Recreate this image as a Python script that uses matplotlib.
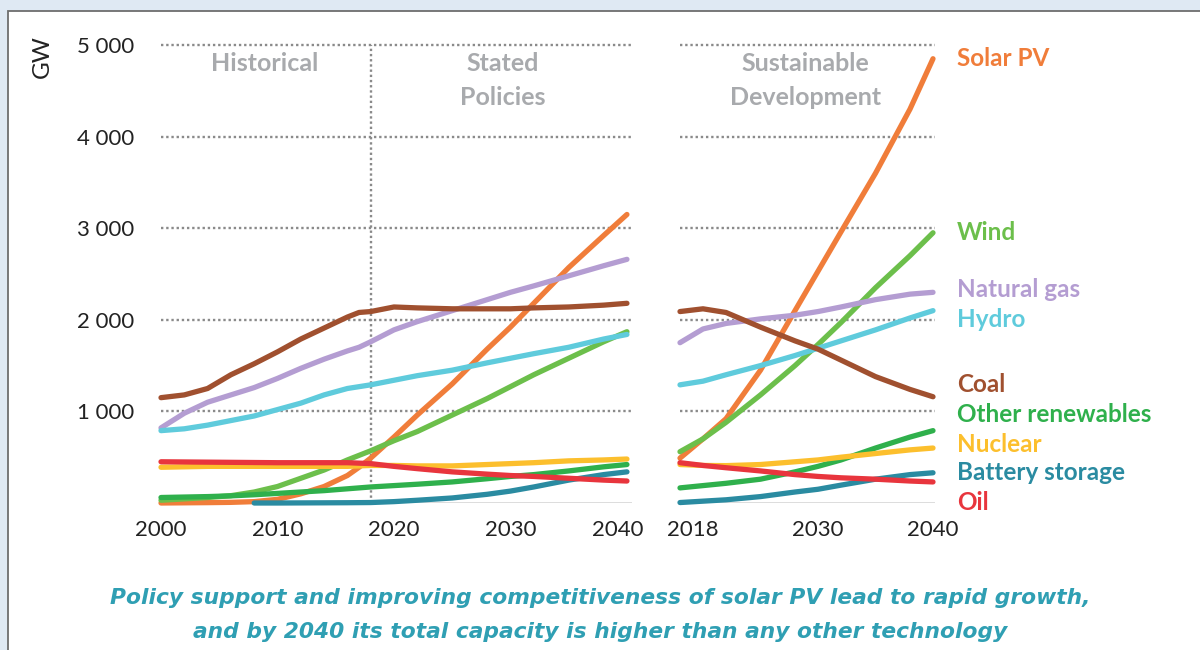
import matplotlib
matplotlib.use("Agg")
from matplotlib import pyplot as plt
from matplotlib.patches import Rectangle
from matplotlib.transforms import ScaledTranslation

# ---------------- data (GW) ----------------
names = ["Solar PV", "Wind", "Natural gas", "Hydro", "Coal",
         "Other renewables", "Nuclear", "Battery storage", "Oil"]
colors = ["#f07d3a", "#6cbf4b", "#b49dd2", "#5fcbdc", "#a0502f",
          "#2fb04c", "#fcbf2d", "#2a8ba1", "#e8353d"]

# Historical + Stated Policies (left panel)
years_sp = [2000, 2002, 2004, 2006, 2008, 2010, 2012, 2014, 2016, 2017, 2018,
            2020, 2022, 2025, 2028, 2030, 2032, 2035, 2038, 2040]
solar_sp = [0, 2, 4, 7, 15, 40, 100, 180, 300, 390, 490,
            720, 960, 1300, 1680, 1920, 2180, 2570, 2920, 3150]
wind_sp = [30, 45, 60, 80, 120, 180, 270, 360, 470, 520, 570,
           680, 780, 960, 1140, 1270, 1400, 1580, 1760, 1870]
gas_sp = [820, 980, 1100, 1180, 1260, 1360, 1470, 1570, 1660, 1700, 1760,
          1890, 1980, 2100, 2220, 2300, 2370, 2480, 2590, 2660]
hydro_sp = [790, 810, 850, 900, 950, 1020, 1090, 1180, 1250, 1270, 1290,
            1340, 1390, 1450, 1530, 1580, 1630, 1700, 1790, 1840]
coal_sp = [1150, 1180, 1250, 1400, 1520, 1650, 1790, 1910, 2030, 2080, 2090,
           2140, 2130, 2120, 2120, 2120, 2130, 2140, 2160, 2180]
other_sp = [60, 65, 70, 78, 90, 105, 120, 135, 155, 165, 175,
            190, 205, 230, 265, 290, 310, 350, 395, 420]
nuclear_sp = [390, 395, 400, 400, 400, 400, 400, 400, 400, 405, 410,
              410, 405, 405, 420, 430, 440, 460, 470, 480]
oil_sp = [450, 448, 446, 444, 442, 440, 440, 440, 440, 435, 430,
          400, 375, 340, 315, 300, 290, 270, 250, 240]
battery_years = [2008, 2010, 2012, 2014, 2016, 2018, 2020, 2022, 2025, 2028, 2030, 2032, 2035, 2038, 2040]
battery_sp = [0, 0, 1, 2, 3, 5, 15, 30, 55, 95, 130, 175, 250, 310, 340]

# Sustainable Development (right panel)
years_sd = [2018, 2020, 2022, 2025, 2028, 2030, 2032, 2035, 2038, 2040]
solar_sd = [490, 700, 920, 1450, 2100, 2530, 2960, 3600, 4300, 4850]
wind_sd = [560, 700, 880, 1180, 1500, 1730, 1970, 2350, 2700, 2950]
gas_sd = [1750, 1900, 1960, 2010, 2050, 2090, 2140, 2220, 2280, 2300]
hydro_sd = [1290, 1330, 1400, 1500, 1610, 1690, 1770, 1890, 2020, 2100]
coal_sd = [2090, 2120, 2080, 1920, 1770, 1680, 1560, 1380, 1240, 1160]
other_sd = [165, 190, 215, 260, 340, 400, 470, 600, 720, 790]
nuclear_sd = [420, 410, 408, 420, 450, 470, 500, 540, 580, 600]
oil_sd = [440, 410, 385, 350, 310, 290, 275, 260, 240, 230]
battery_sd = [5, 20, 35, 70, 120, 150, 195, 260, 310, 330]

series_sp = [solar_sp, wind_sp, gas_sp, hydro_sp, coal_sp, other_sp, nuclear_sp, battery_sp, oil_sp]
series_sd = [solar_sd, wind_sd, gas_sd, hydro_sd, coal_sd, other_sd, nuclear_sd, battery_sd, oil_sd]

label_y = [4850, 2950, 2330, 2000, 1290, 970, 640, 330, 10]

yticks = [1000, 2000, 3000, 4000, 5000]
ytick_labels = ["1 000", "2 000", "3 000", "4 000", "5 000"]
xticks_sp = [2000, 2010, 2020, 2030, 2040]
xticks_sd = [2018, 2030, 2040]

caption = ("Policy support and improving competitiveness of solar PV lead to rapid growth,\n"
           "and by 2040 its total capacity is higher than any other technology")

# ---------------- figure ----------------
plt.rcParams['font.family'] = ['Lato', 'DejaVu Sans']
fig = plt.figure(figsize=(12, 6.5), dpi=100)
fig.patch.set_facecolor("#dfe9f3")
box = Rectangle((8 / 1200, -0.1), 1.1, 1.1 - 11 / 650, transform=fig.transFigure,
                facecolor="white", edgecolor="#6d6d6d", linewidth=1.3, zorder=-5)
fig.add_artist(box)

grid_color = "#8a8a8a"
dots = (0, (1, 1.2))

ax1 = fig.add_axes([161 / 1200, 147 / 650, 470.6 / 1200, 458 / 650])
ax2 = fig.add_axes([680 / 1200, 147 / 650, 255.3 / 1200, 458 / 650])

for ax in (ax1, ax2):
    ax.set_facecolor("none")
    ax.set_ylim(0, 5000)
    for s in ax.spines.values():
        s.set_visible(False)
    for yv in yticks:
        ax.axhline(yv, color=grid_color, lw=1.7, ls=dots, zorder=1, clip_on=False)
    ax.axhline(0, color="#555555", lw=1.0, zorder=1)
    ax.tick_params(length=0, labelsize=16, colors="#222222", pad=12)

ax1.set_xlim(2000, 2040.4)
ax2.set_xlim(2018, 2040.2)

ax1.axvline(2018, color=grid_color, lw=1.7, ls=dots, zorder=1)

for i in range(len(names)):
    xs = battery_years if names[i] == "Battery storage" else years_sp
    ax1.plot(xs, series_sp[i], color=colors[i], lw=3.8, solid_capstyle="round", zorder=3, clip_on=False)
    ax2.plot(years_sd, series_sd[i], color=colors[i], lw=3.8, solid_capstyle="round", zorder=3, clip_on=False)
    ax2.text(2042.1, label_y[i], names[i], color=colors[i], fontsize=17.5, fontweight="bold",
             va="center", ha="left")

ax1.set_yticks(yticks)
ax1.set_yticklabels(ytick_labels)
ax1.tick_params(axis="y", pad=19)
ax2.set_yticks([])
ax1.set_xticks(xticks_sp)
ax2.set_xticks(xticks_sd)

# end labels sit a little inside the axis ends
lab = ax1.get_xticklabels()[-1]
lab.set_transform(lab.get_transform() + ScaledTranslation(-9 / 100, 0, fig.dpi_scale_trans))
lab = ax2.get_xticklabels()[0]
lab.set_transform(lab.get_transform() + ScaledTranslation(13 / 100, 0, fig.dpi_scale_trans))

fig.text(42 / 1200, 1 - 57 / 650, "GW", rotation=90, fontsize=17.5,
         color="#222222", ha="center", va="center")

scen_color = "#a8aaad"
ax1.text(2008.9, 4800, "Historical", color=scen_color, fontsize=18, fontweight="bold", ha="center", va="center")
ax1.text(2029.3, 4800, "Stated", color=scen_color, fontsize=18, fontweight="bold", ha="center", va="center")
ax1.text(2029.3, 4430, "Policies", color=scen_color, fontsize=18, fontweight="bold", ha="center", va="center")
ax2.text(2028.9, 4800, "Sustainable", color=scen_color, fontsize=18, fontweight="bold", ha="center", va="center")
ax2.text(2028.9, 4430, "Development", color=scen_color, fontsize=18, fontweight="bold", ha="center", va="center")

fig.text(0.5, 1 - 615 / 650, caption, ha="center", va="center", fontsize=15.7, color="#2f9fb3",
         family="DejaVu Sans", style="oblique", fontweight="bold", linespacing=1.85)

plt.savefig("out.png", dpi=100, facecolor=fig.get_facecolor())
